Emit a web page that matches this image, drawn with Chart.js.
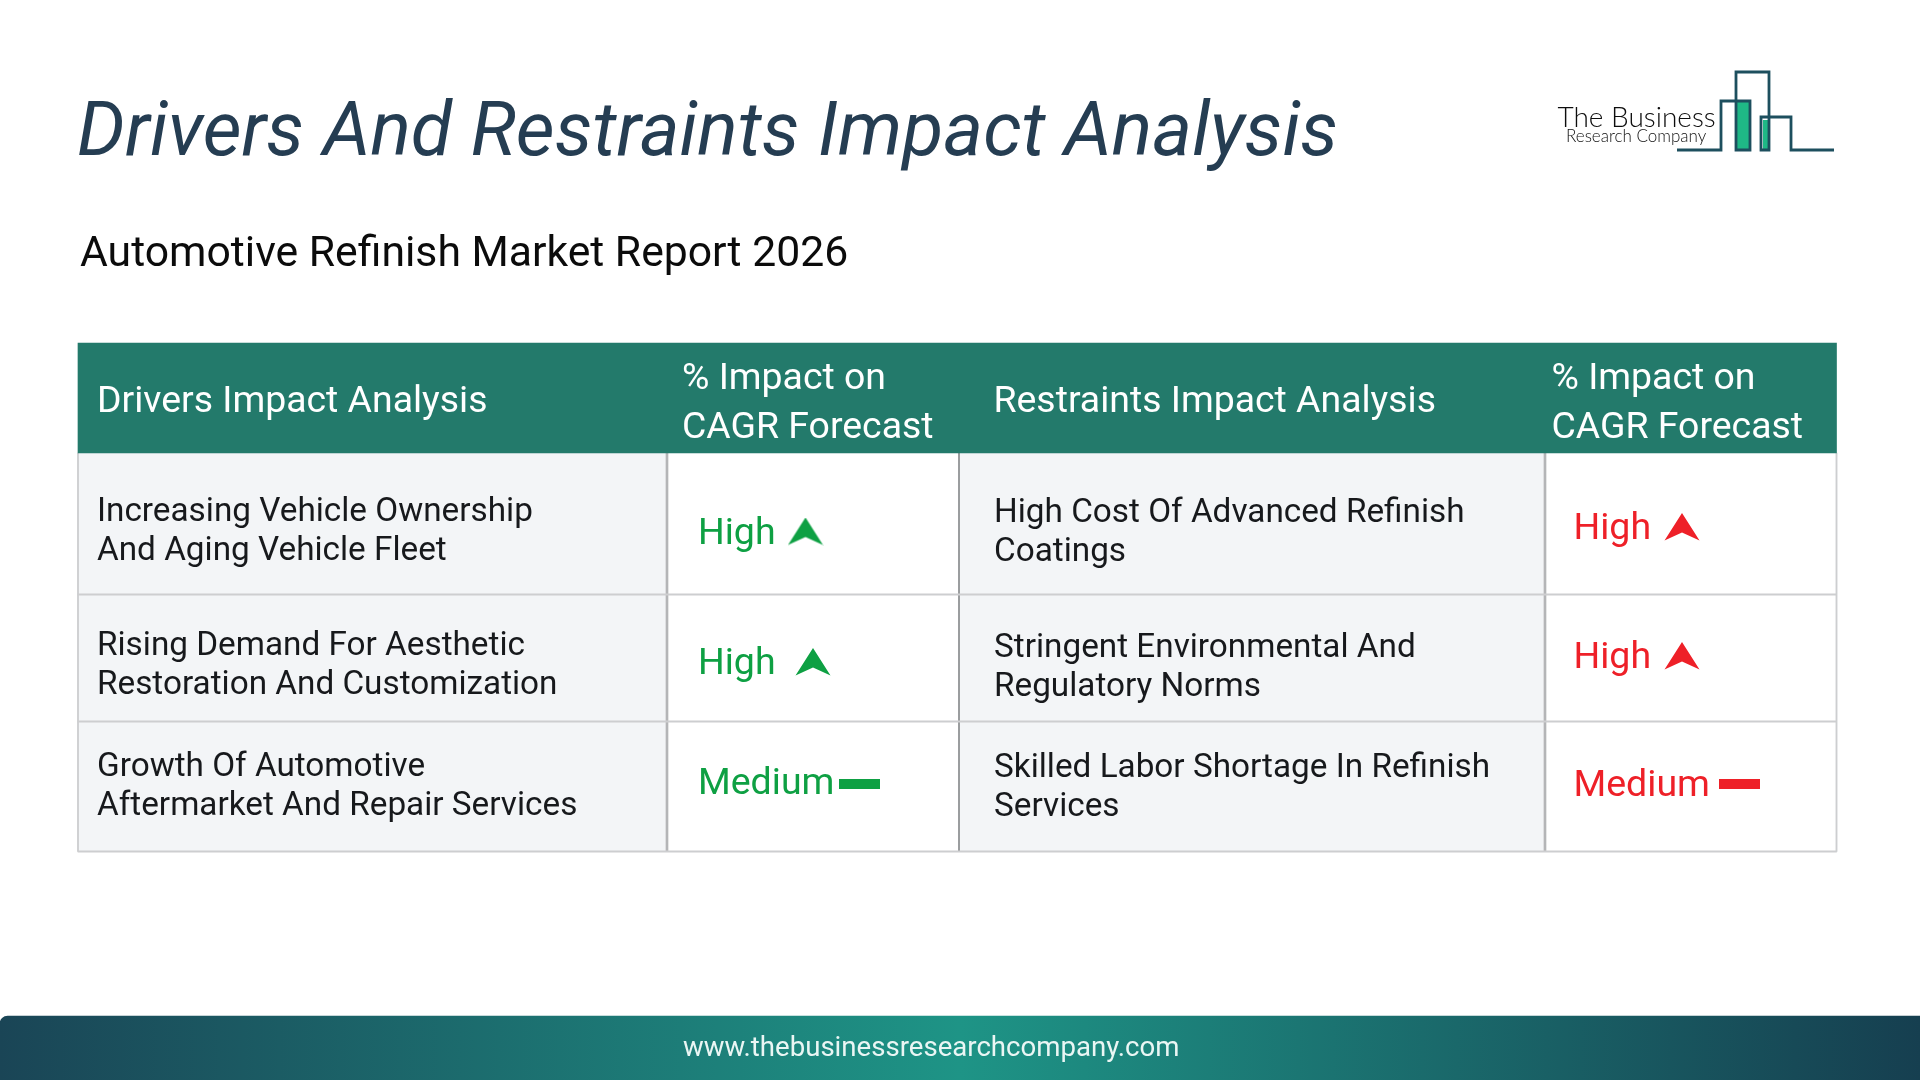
<!DOCTYPE html>
<html><head><meta charset="utf-8">
<style>html,body{margin:0;padding:0;background:#fff}#wrap{position:absolute;left:0;top:0;width:1920px;height:1080px}</style>
<script src="https://cdn.jsdelivr.net/npm/chart.js@4"></script>
</head><body><div id="wrap"><canvas id="c" width="1920" height="1080"></canvas></div>
<script>
const titleText = 'Drivers And Restraints Impact Analysis';
const subtitleText = 'Automotive Refinish Market Report 2026';
const footerText = 'www.thebusinessresearchcompany.com';
const headerLabels = ['Drivers Impact Analysis', ['% Impact on','CAGR Forecast'], 'Restraints Impact Analysis', ['% Impact on','CAGR Forecast']];
const driverLabels = [['Increasing Vehicle Ownership','And Aging Vehicle Fleet'],['Rising Demand For Aesthetic','Restoration And Customization'],['Growth Of Automotive','Aftermarket And Repair Services']];
const driverImpact = ['High','High','Medium'];
const restraintLabels = [['High Cost Of Advanced Refinish','Coatings'],['Stringent Environmental And','Regulatory Norms'],['Skilled Labor Shortage In Refinish','Services']];
const restraintImpact = ['High','High','Medium'];

/* layout */
const colEdges = [78,667,959,1545,1836.5];
const rowEdges = [343,453,594.5,721.5,851.5];
const driverTextY = [[521,560],[655,694],[776,815]];
const restraintTextY = [[522,561],[657,696],[777,816]];
const driverImpactY = [544,674,794];
const restraintImpactY = [539,668,796];
const driverMark = [[805.5,531.5],[813,662],[859,784]];
const restraintMark = [[1682,527],[1682,656],[1739,784]];
const GREEN='#0ea043', RED='#ee2028';

function arrowIcon(color){
  const k=document.createElement('canvas');k.width=36;k.height=28;const g=k.getContext('2d');
  g.fillStyle=color;g.beginPath();g.moveTo(18,0);g.lineTo(35.5,27.5);g.lineTo(18,19.5);g.lineTo(.5,27.5);g.closePath();g.fill();return k;
}
function dashIcon(color){
  const k=document.createElement('canvas');k.width=41;k.height=10;const g=k.getContext('2d');
  g.fillStyle=color;g.fillRect(0,0,41,10);return k;
}
const icons={High:{[GREEN]:arrowIcon(GREEN),[RED]:arrowIcon(RED)},Medium:{[GREEN]:dashIcon(GREEN),[RED]:dashIcon(RED)}};

function band(x0,x1,y0,y1,color,extra){
  return Object.assign({type:'bar',indexAxis:'y',grouped:false,data:[{y:(y0+y1)/2,x:[x0,x1]}],
    barThickness:y1-y0,backgroundColor:color,borderWidth:0},extra||{});
}
const LEFT='#f3f5f7', LINE='#cdced0', DARK='#b4b5b7';
const sets=[];
sets.push({type:'scatter',data:driverImpact.map((v,i)=>({x:driverMark[i][0],y:driverMark[i][1]})),
  pointStyle:driverImpact.map(v=>icons[v][GREEN]),pointRadius:10,showLine:false,order:0});
sets.push({type:'scatter',data:restraintImpact.map((v,i)=>({x:restraintMark[i][0],y:restraintMark[i][1]})),
  pointStyle:restraintImpact.map(v=>icons[v][RED]),pointRadius:10,showLine:false,order:0});
sets.push(band(colEdges[0],colEdges[4],rowEdges[0],rowEdges[1],'#237a6b',{order:1}));
sets.push(band(0,1920,1016,1080,function(ctx){
  const a=ctx.chart.chartArea; if(!a) return '#1a6e73';
  const g=ctx.chart.ctx.createLinearGradient(0,0,1920,0);
  g.addColorStop(0,'#1a4556');g.addColorStop(.5,'#1e9486');g.addColorStop(1,'#163f50');return g;
},{borderRadius:{topLeft:8,bottomLeft:0,topRight:0,bottomRight:0},borderSkipped:false,order:1}));
for(let r=2;r<=4;r++) sets.push(band(colEdges[0],colEdges[4],rowEdges[r]-.6,rowEdges[r]+.6,LINE,{order:2}));
sets.push(band(colEdges[0]-.6,colEdges[0]+.6,rowEdges[1],rowEdges[4],LINE,{order:2}));
sets.push(band(colEdges[1]-1,colEdges[1]+1,rowEdges[1],rowEdges[4],DARK,{order:2}));
sets.push(band(colEdges[2]-.5,colEdges[2]+.5,rowEdges[1],rowEdges[4],'#888a8c',{order:2}));
sets.push(band(colEdges[3]-1,colEdges[3]+1,rowEdges[1],rowEdges[4],DARK,{order:2}));
sets.push(band(colEdges[4]-.6,colEdges[4]+.6,rowEdges[1],rowEdges[4],LINE,{order:2}));
sets.push(band(colEdges[0],colEdges[1],rowEdges[1],rowEdges[4],LEFT,{order:3}));
sets.push(band(colEdges[2],colEdges[3],rowEdges[1],rowEdges[4],LEFT,{order:3}));

function put(g,t,x,y,font,color,ls){
  g.font=font;g.fillStyle=color;g.letterSpacing=ls||'0px';g.textBaseline='alphabetic';g.textAlign='left';g.fillText(t,x,y);
}
const textPlugin={id:'tableText',afterDatasetsDraw(ch){
  const g=ch.ctx,X=ch.scales.x,Y=ch.scales.y;g.save();
  const P=(t,x,y,f,c,l)=>put(g,t,X.getPixelForValue(x),Y.getPixelForValue(y),f,c,l);
  const R='Roboto, sans-serif';
  P(titleText,77,155,'italic 400 75.5px '+R,'#253d52');
  P(subtitleText,80,266,'400 42.7px '+R,'#0b0b0b');
  const H='400 37.4px '+R,W='#ffffff';
  P(headerLabels[0],97,412,H,W);
  P(headerLabels[1][0],682,389,H,W);P(headerLabels[1][1],682,438,H,W);
  P(headerLabels[2],993.5,412,H,W);
  P(headerLabels[3][0],1551.5,389,H,W);P(headerLabels[3][1],1551.5,438,H,W);
  const B='400 33.3px '+R,K='#17191c',I='400 37.5px '+R;
  driverLabels.forEach((l,i)=>l.forEach((s,j)=>P(s,97,driverTextY[i][j],B,K)));
  restraintLabels.forEach((l,i)=>l.forEach((s,j)=>P(s,994,restraintTextY[i][j],B,K)));
  driverImpact.forEach((s,i)=>P(s,698,driverImpactY[i],I,GREEN));
  restraintImpact.forEach((s,i)=>P(s,1573.5,restraintImpactY[i],I,RED));
  P(footerText,683,1056,'400 27.6px '+R,'#eaf6f4');
  const L='#1d4f5e',F='#1fb886';
  g.fillStyle=F;g.fillRect(1737,102,13,48);g.fillRect(1763,120,5,30);
  g.strokeStyle=L;g.lineWidth=2.8;g.lineJoin='miter';g.beginPath();
  [[1677,150],[1721,150],[1721,101],[1750,101],[1750,150],[1736,150],[1736,72],[1769,72],[1769,150],[1761,150],[1761,117],[1791,117],[1791,150],[1834,150]]
    .forEach((p,i)=>i?g.lineTo(p[0],p[1]):g.moveTo(p[0],p[1]));g.stroke();
  P('The Business',1557.5,127,'300 28px Lato, sans-serif','#0d0d0d');
  P('Research Company',1566,142,'300 17px Lato, sans-serif','#111111');
  g.restore();
}};
new Chart(document.getElementById('c'),{
  type:'bar',data:{datasets:sets},plugins:[textPlugin],
  options:{responsive:false,animation:false,events:[],devicePixelRatio:1,layout:{padding:0,autoPadding:false},
    plugins:{legend:{display:false},tooltip:{enabled:false},title:{display:false}},
    scales:{x:{type:'linear',min:0,max:1920,display:false,offset:false,grid:{display:false}},
            y:{type:'linear',min:0,max:1080,reverse:true,display:false,offset:false,grid:{display:false}}}}
});
</script></body></html>
